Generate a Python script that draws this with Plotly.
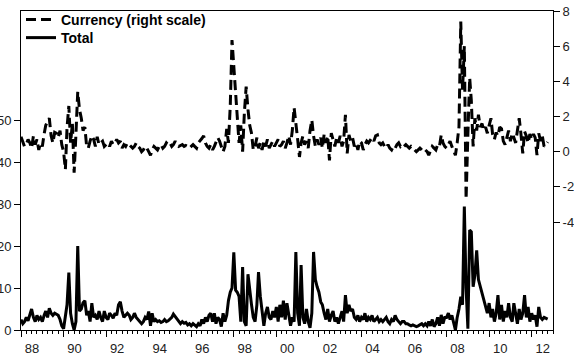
import plotly.graph_objects as go
import pandas as pd

start_month = "1988-01-01"

total = [
    2.5, 1.5, 2.0, 3.0, 2.2, 3.5, 5.0, 3.0, 2.0, 3.5, 2.5, 3.0,        # 1988
    2.0, 3.5, 4.5, 3.0, 5.2, 4.0, 3.5, 4.0, 3.8, 3.5, 2.5, 1.0,        # 1989
    0.3, 3.0, 6.0, 13.7, 4.0, 1.5, 0.0, 2.0, 20.0, 4.5, 5.0, 6.5,      # 1990
    7.0, 3.5, 4.5, 2.0, 6.4, 3.0, 3.5, 2.5, 4.5, 3.0, 2.0, 4.5,        # 1991
    3.0, 2.5, 4.0, 3.5, 2.8, 4.0, 3.5, 6.0, 6.7, 4.5, 3.0, 3.5,        # 1992
    4.0, 3.5, 2.5, 3.0, 4.0, 3.0, 2.5, 2.0, 1.5, 2.0, 3.0, 2.5,        # 1993
    4.4, 1.0, 4.0, 2.0, 2.5, 2.0, 2.2, 1.8, 2.0, 2.5, 2.0, 2.2,        # 1994
    2.5, 3.0, 3.8, 3.2, 2.5, 2.0, 1.5, 2.0, 1.6, 1.8, 1.2, 1.5,        # 1995
    1.0, 1.5, 1.2, 0.8, 1.5, 1.0, 2.5, 1.5, 3.0, 2.0, 3.5, 4.0,        # 1996
    2.0, 4.0, 1.5, 3.0, 2.5, 0.8, 4.0, 2.0, 3.5, 7.0, 9.0, 10.0,       # 1997
    18.5, 9.5, 9.0, 8.0, 2.0, 15.0, 2.0, 1.0, 13.3, 9.0, 6.0, 3.0,     # 1998
    2.0, 6.0, 13.8, 8.0, 5.0, 1.0, 4.0, 5.5, 3.0, 2.5, 4.5, 3.0,       # 1999
    5.5, 2.0, 6.0, 3.0, 7.0, 2.5, 6.4, 4.0, 1.0, 3.0, 2.0, 18.6,       # 2000
    4.0, 1.0, 15.5, 3.0, 1.5, 5.0, 2.0, 0.5, 4.0, 18.6, 12.0, 10.3,    # 2001
    9.0, 6.7, 6.0, 4.0, 2.5, 5.0, 2.0, 3.5, 4.5, 2.0, 3.0, 1.5,        # 2002
    3.0, 4.5, 2.0, 8.3, 4.0, 6.0, 4.5, 5.0, 3.0, 2.5, 3.5, 2.0,        # 2003
    3.0, 2.5, 4.0, 2.0, 3.0, 2.5, 3.5, 2.0, 2.5, 3.0, 2.0, 2.5,        # 2004
    2.0, 2.5, 3.0, 2.0, 1.5, 2.5, 2.0, 3.5, 2.5, 2.0, 1.5, 2.0,        # 2005
    2.0, 1.5, 1.5, 1.2, 1.0, 1.2, 1.0, 0.8, 1.0, 1.2, 1.5, 1.0,        # 2006
    1.5, 1.0, 2.0, 1.0, 2.5, 0.8, 1.5, 3.0, 1.0, 3.6, 1.5, 3.0,        # 2007
    3.0, 4.0, 2.5, 3.5, 2.0, 0.0, 3.0, 5.0, 7.9, 6.0, 29.4, 10.0,      # 2008
    0.3, 23.8, 23.4, 10.3, 13.0, 19.0, 12.0, 10.3, 9.0, 7.0, 5.0, 4.0, # 2009
    6.4, 3.0, 5.0, 2.0, 4.0, 8.3, 2.5, 6.0, 2.0, 4.5, 3.0, 6.4,        # 2010
    3.0, 2.0, 6.4, 3.5, 1.5, 5.0, 2.5, 4.0, 8.3, 3.0, 5.5, 2.0,        # 2011
    4.0, 2.5, 3.5, 0.8, 5.5, 3.0, 2.5, 3.0, 2.8, 2.6,                  # 2012
]

currency = [
    0.85, 0.6, 0.3, 0.4, 0.7, 0.5, 0.2, 0.9, 0.4, 0.7, 0.1, 0.5,       # 1988
    0.3, 1.0, 1.5, 1.7, 1.9, 0.9, 0.5, 1.1, 1.05, 0.8, 1.2, 0.4,       # 1989
    0.0, -1.0, 1.35, 2.6, 0.5, 1.6, -1.2, 1.0, 3.4, 2.4, 1.9, 1.2,     # 1990
    1.4, 0.3, 0.2, 0.6, 0.9, 0.7, 0.3, 0.85, 0.4, 0.5, 0.6, 0.3,       # 1991
    0.4, 0.5, 0.3, 0.6, 0.4, 0.5, 0.7, 0.5, 0.6, 0.2, 0.4, 0.3,        # 1992
    0.5, 0.4, 0.3, 0.2, 0.3, 0.5, 0.3, 0.2, 0.0, 0.1, 0.3, 0.2,        # 1993
    0.0, -0.2, 0.1, 0.3, 0.2, 0.1, 0.3, 0.4, 0.2, 0.3, 0.5, 0.4,       # 1994
    0.5, 0.3, 0.4, 0.6, 0.4, 0.3, 0.35, 0.4, 0.3, 0.35, 0.3, 0.2,      # 1995
    0.3, 0.4, 0.3, 0.2, 0.5, 0.6, 0.75, 0.9, 0.5, 0.3, 0.2, 0.4,       # 1996
    0.1, 0.3, 0.5, 0.8, 0.6, 0.3, 0.0, 0.3, 1.3, 0.5, 2.6, 6.35,       # 1997
    4.8, 3.5, 2.1, 0.5, 1.5, 0.0, 2.2, 3.7, 2.4, 1.5, 1.05, 0.1,       # 1998
    0.3, 0.8, 0.2, 0.5, 0.1, 0.6, 0.3, 0.7, 0.2, 0.4, 0.6, 0.3,        # 1999
    0.5, 0.7, 0.3, 0.4, 0.6, 0.2, 0.5, 0.9, 0.4, 1.2, 2.5, 1.4,        # 2000
    0.7, -0.3, 0.5, 0.9, 0.4, 0.6, 0.2, 1.2, 1.8, 0.9, 0.3, 0.7,       # 2001
    0.4, 0.8, 0.2, 1.0, 0.5, 0.9, -0.5, 1.05, 0.6, 0.3, 0.8, 0.5,      # 2002
    0.9, 0.3, 0.6, 2.1, -0.1, 0.95, 0.6, 0.8, 0.3, 0.5, 0.1, 0.6,      # 2003
    0.5, 0.1, 0.4, 0.6, 0.5, 0.7, 0.8, 0.6, 0.9, 0.95, 0.5, 0.4,       # 2004
    0.5, 0.3, 0.2, 0.4, 0.2, 0.1, 0.3, 0.2, 0.4, 0.5, 0.3, 0.4,        # 2005
    0.3, 0.4, 0.3, 0.2, 0.3, 0.2, 0.1, 0.0, 0.1, 0.2, 0.1, 0.0,        # 2006
    0.1, 0.0, -0.2, 0.1, 0.3, 0.2, 0.1, 0.4, 0.3, 0.95, 0.5, 0.3,      # 2007
    0.2, 0.4, 0.6, 0.3, 0.1, -0.2, 0.5, 1.4, 7.4, 3.5, 6.0, -2.7,      # 2008
    1.0, 4.2, 2.9, 0.3, 1.9, 1.2, 2.1, 1.4, 1.6, 1.2, 1.4, 1.05,       # 2009
    1.5, 1.9, 1.0, 0.7, 1.1, 0.9, 1.4, 1.3, 0.6, 0.4, 0.8, 1.2,        # 2010
    0.6, 1.05, 0.8, 0.5, 1.2, 1.9, 1.0, -0.1, 1.15, 0.9, 0.5, 1.0,     # 2011
    0.7, 1.0, 0.8, -0.2, 1.05, 0.6, 0.9, 0.3, 0.4, 0.55,               # 2012
]

left_ticks = [0, 10, 20, 30, 40, 50]
right_ticks = [-4, -2, 0, 2, 4, 6, 8]
right_tick_labels = ["-4", "-2", "0", "2", "4", "6", "8"]

dates = pd.date_range(start_month, periods=len(total), freq="MS")

fig = go.Figure()
fig.add_trace(go.Scatter(
    x=dates, y=currency, name="Currency (right scale)", yaxis="y2", legend="legend",
    mode="lines", line=dict(color="black", width=3, dash="10px,5px"),
))
fig.add_trace(go.Scatter(
    x=dates, y=total, name="Total", yaxis="y", legend="legend2",
    mode="lines", line=dict(color="black", width=3),
))

FONT = "Arial, Liberation Sans, sans-serif"

fig.update_layout(
    width=574, height=358,
    template="none",
    font=dict(family=FONT, size=13, color="#222222"),
    paper_bgcolor="white", plot_bgcolor="white",
    margin=dict(l=21, r=21, t=11, b=28, autoexpand=False),
    showlegend=True,
    legend=dict(
        x=0.0, y=0.9718, xanchor="left", yanchor="middle",
        bgcolor="rgba(0,0,0,0)", borderwidth=0, itemwidth=30,
        font=dict(family=FONT, size=14, color="black", weight="bold"),
    ),
    legend2=dict(
        x=0.0, y=0.9153, xanchor="left", yanchor="middle",
        bgcolor="rgba(0,0,0,0)", borderwidth=0, itemwidth=30,
        font=dict(family=FONT, size=14, color="black", weight="bold"),
    ),
    xaxis=dict(
        type="date", range=["1988-01-01", "2013-01-01"],
        tick0="1988-01-01", dtick="M24", tickformat="%y",
        ticks="outside", ticklen=6, tickcolor="black", tickwidth=1,
        ticklabelshift=11,
        minor=dict(dtick="M3", ticks="outside", ticklen=3, tickcolor="black", showgrid=False),
        showline=True, linecolor="black", linewidth=1, mirror=True,
        showgrid=False, zeroline=False, automargin=False,
        tickfont=dict(family=FONT, size=13, color="#222222"),
    ),
    yaxis=dict(
        range=[0, 76], tickvals=left_ticks,
        ticks="outside", ticklen=6, tickcolor="black",
        showline=True, linecolor="black", linewidth=1,
        showgrid=False, zeroline=False, automargin=False,
        tickfont=dict(family=FONT, size=13, color="#222222"),
    ),
    yaxis2=dict(
        overlaying="y", side="right",
        range=[-10.14, 8], tickvals=right_ticks, ticktext=right_tick_labels,
        ticks="outside", ticklen=6, tickcolor="black",
        showline=True, linecolor="black", linewidth=1,
        showgrid=False, zeroline=False, automargin=False,
        color="#222222",
        tickfont=dict(family=FONT, size=13, color="#222222"),
    ),
)

fig.write_html(
    "out.html",
    config={"displayModeBar": False},
    post_script="document.body.style.margin='0px';",
)
